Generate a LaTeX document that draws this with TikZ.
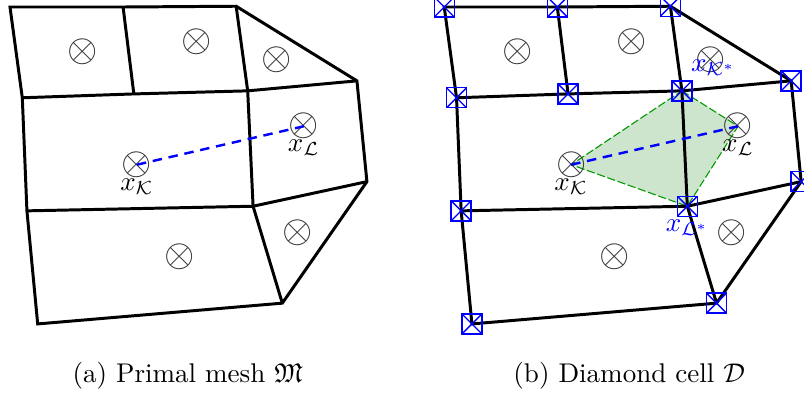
\documentclass[tikz,border=0pt]{standalone}
\usepackage{amsmath}
\usepackage{amssymb}
\usepackage{tikz}
\usetikzlibrary{positioning}

% vertices of the primal mesh, #1 is a prefix for the names
\newcommand{\meshpoints}[1]{%
  \coordinate (#1a) at (0.13, 5.07);
  \coordinate (#1b) at (1.60, 5.07);
  \coordinate (#1c) at (3.07, 5.08);
  \coordinate (#1d) at (4.64, 4.11);
  \coordinate (#1e) at (0.29, 3.89);
  \coordinate (#1f) at (1.74, 3.94);
  \coordinate (#1g) at (3.22, 3.98);
  \coordinate (#1h) at (4.77, 2.80);
  \coordinate (#1i) at (0.35, 2.42);
  \coordinate (#1j) at (3.29, 2.48);
  \coordinate (#1k) at (3.67, 1.22);
  \coordinate (#1l) at (0.49, 0.95);
}

\newcommand{\meshedges}[1]{%
  \draw [meshedge] (#1a) -- (#1b) -- (#1c) -- (#1d) -- (#1h) -- (#1k) -- (#1l) -- (#1i) -- (#1e) -- cycle;
  \draw [meshedge] (#1b) -- (#1f);
  \draw [meshedge] (#1c) -- (#1g) -- (#1j) -- (#1k);
  \draw [meshedge] (#1e) -- (#1f) -- (#1g) -- (#1d);
  \draw [meshedge] (#1i) -- (#1j) -- (#1h);
}

\newcommand{\meshcenters}[1]{%
  \node [cellcenter] (#1c1) at (1.08, 4.49) {$\otimes$};
  \node [cellcenter] (#1c2) at (2.56, 4.62) {$\otimes$};
  \node [cellcenter] (#1c3) at (3.59, 4.39) {$\otimes$};
  \node [cellcenter] (#1xL) at (3.95, 3.52) {$\otimes$};
  \node [cellcenter] (#1xK) at (1.78, 3.02) {$\otimes$};
  \node [cellcenter] (#1c6) at (3.87, 2.13) {$\otimes$};
  \node [cellcenter] (#1c7) at (2.34, 1.82) {$\otimes$};
  \node (#1labK) at (1.78, 2.73) {$x_{\mathcal{K}}$};
  \node (#1labL) at (3.95, 3.24) {$x_{\mathcal{L}}$};
}

\begin{document}
\begin{tikzpicture}[
    meshedge/.style={line width=1.1pt},
    cellcenter/.style={inner sep=0pt, text=black!80, font=\Large},
    centerlink/.style={blue, line width=0.9pt, dash pattern=on 3.5pt off 2.5pt},
    diamondcell/.style={draw=green!60!black, fill=green!50!black!20, line width=0.4pt, dash pattern=on 3pt off 1pt},
    vertexbox/.style={draw=blue, line width=0.5pt, minimum size=7.4pt, inner sep=0pt,
      path picture={\draw [blue, line width=0.5pt]
        (path picture bounding box.north west) -- (path picture bounding box.south east)
        (path picture bounding box.north east) -- (path picture bounding box.south west);}}
  ]
  \useasboundingbox (0, 0) rectangle (10.452, 5.161);

  % (a) primal mesh
  \begin{scope}
    \meshpoints{a}
    \meshedges{a}
    \meshcenters{a}
    \draw [centerlink] (axK.center) -- (axL.center);
  \end{scope}

  % (b) diamond cell
  \begin{scope}[xshift=5.645cm]
    \meshpoints{b}
    \fill [diamondcell] (3.22, 3.98) -- (3.95, 3.52) -- (3.29, 2.48) -- (1.78, 3.02) -- cycle;
    \meshedges{b}
    \meshcenters{b}
    \draw [centerlink] (bxK.center) -- (bxL.center);
    \node [vertexbox] (bsa) at (ba) {};
    \node [vertexbox] (bsb) at (bb) {};
    \node [vertexbox] (bsc) at (bc) {};
    \node [vertexbox] (bsd) at (bd) {};
    \node [vertexbox] (bse) at (be) {};
    \node [vertexbox] (bsf) at (bf) {};
    \node [vertexbox] (bsg) at (bg) {};
    \node [vertexbox] (bsh) at (bh) {};
    \node [vertexbox] (bsi) at (bi) {};
    \node [vertexbox] (bsj) at (bj) {};
    \node [vertexbox] (bsk) at (bk) {};
    \node [vertexbox] (bsl) at (bl) {};
    \node [blue] (blabKs) at (3.63, 4.28) {$x_{\mathcal{K}^*}$};
    \node [blue] (blabLs) at (3.29, 2.20) {$x_{\mathcal{L}^*}$};
  \end{scope}

  \node (capa) at (2.44, 0.27) {(a) Primal mesh $\mathfrak{M}$};
  \node (capb) at (8.18, 0.27) {(b) Diamond cell $\mathcal{D}$};
\end{tikzpicture}
\end{document}
